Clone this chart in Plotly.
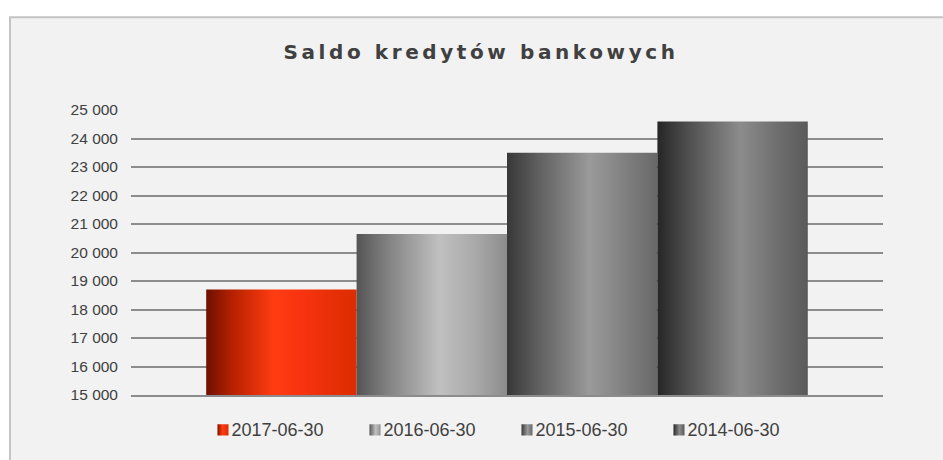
import plotly.graph_objects as go

# ---- data ----
dates = ["2017-06-30", "2016-06-30", "2015-06-30", "2014-06-30"]
values = [18700, 20650, 23500, 24600]
tick_vals = [15000, 16000, 17000, 18000, 19000, 20000, 21000, 22000, 23000, 24000, 25000]
tick_text = ["15 000", "16 000", "17 000", "18 000", "19 000", "20 000",
             "21 000", "22 000", "23 000", "24 000", "25 000"]
title_text = "Saldo kredytów bankowych"

# ---- styles ----
solid_colors = ["#e0320d", "#969696", "#777777", "#636363"]
gradients = [
    [("0", "#6e1000"), ("0.18", "#b82200"), ("0.45", "#ff3c12"), ("0.62", "#f83410"), ("1", "#dc2c00")],
    [("0", "#545454"), ("0.2", "#808080"), ("0.55", "#c0c0c0"), ("0.8", "#a8a8a8"), ("1", "#8c8c8c")],
    [("0", "#383838"), ("0.2", "#5e5e5e"), ("0.55", "#9a9a9a"), ("0.8", "#7e7e7e"), ("1", "#686868")],
    [("0", "#262626"), ("0.2", "#4e4e4e"), ("0.55", "#8c8c8c"), ("0.8", "#6e6e6e"), ("1", "#5a5a5a")],
]

W, H = 943, 460
ML, MR, MT, MB = 131, 60, 110, 58
PW, PH = W - ML - MR, H - MT - MB

fig = go.Figure()
for d, v, c in zip(dates, values, solid_colors):
    fig.add_trace(go.Bar(
        x=["Saldo"], y=[v], name=d,
        marker=dict(color=c, line=dict(width=0)),
        hoverinfo="name+y",
    ))

def px_to_paper_x(px):
    return (px - ML) / PW

def px_to_paper_y(py):
    return (H - MB - py) / PH

fig.update_layout(
    width=W, height=H, autosize=False,
    margin=dict(l=ML, r=MR, t=MT, b=MB, pad=0),
    paper_bgcolor="#ffffff",
    plot_bgcolor="rgba(0,0,0,0)",
    barmode="group", bargap=0.2, bargroupgap=0,
    font=dict(family="Liberation Sans, Arial, sans-serif", color="#404040"),
    title=dict(
        text=title_text,
        x=px_to_paper_x(481), xref="paper", xanchor="center",
        y=1 - 52 / H, yref="container", yanchor="middle",
        font=dict(family="DejaVu Sans, Verdana, sans-serif", size=20,
                  color="#404040", weight="bold"),
    ),
    xaxis=dict(showticklabels=False, showgrid=False, zeroline=False,
               showline=True, linecolor="#8c8c8c", linewidth=2, ticks=""),
    yaxis=dict(range=[15000, 25000], tickvals=tick_vals, ticktext=tick_text,
               showgrid=True, gridcolor="#8c8c8c", gridwidth=2,
               zeroline=False, showline=False, ticks="",
               ticklabelstandoff=12,
               tickfont=dict(size=15.5, color="#404040")),
    legend=dict(orientation="h", x=px_to_paper_x(495.5), xanchor="center",
                y=px_to_paper_y(437), yanchor="middle",
                font=dict(size=18, color="#404040"),
                entrywidth=107, entrywidthmode="pixels",
                bgcolor="rgba(0,0,0,0)", itemclick=False,
                traceorder="normal"),
    shapes=[dict(type="rect", xref="paper", yref="paper", layer="below",
                 x0=px_to_paper_x(10), x1=px_to_paper_x(960),
                 y0=px_to_paper_y(480), y1=px_to_paper_y(15),
                 fillcolor="#f2f2f2", line=dict(color="#c4c4c4", width=2))],
)

grad_js = "[" + ",".join(
    "[" + ",".join('["%s","%s"]' % s for s in g) + "]" for g in gradients
) + "]"

post = """
(function(){
document.body.style.margin = '0';
var grads = %s;
var gd = document.getElementsByClassName('plotly-graph-div')[0];
function apply(){
  var svg = gd.querySelector('.main-svg');
  if(!svg) return;
  var defs = svg.querySelector('defs');
  var ns = 'http://www.w3.org/2000/svg';
  grads.forEach(function(g, i){
    if(document.getElementById('cylgrad' + i)) return;
    var lg = document.createElementNS(ns, 'linearGradient');
    lg.setAttribute('id', 'cylgrad' + i);
    lg.setAttribute('x1', '0'); lg.setAttribute('y1', '0');
    lg.setAttribute('x2', '1'); lg.setAttribute('y2', '0');
    g.forEach(function(s){
      var st = document.createElementNS(ns, 'stop');
      st.setAttribute('offset', s[0]);
      st.setAttribute('stop-color', s[1]);
      lg.appendChild(st);
    });
    defs.appendChild(lg);
  });
  gd.querySelectorAll('.barlayer .trace').forEach(function(t, i){
    t.querySelectorAll('path').forEach(function(p){ p.style.fill = 'url(#cylgrad' + i + ')'; });
  });
  gd.querySelectorAll('.legend .traces').forEach(function(t, i){
    t.querySelectorAll('.legendpoints path').forEach(function(p){
      p.style.fill = 'url(#cylgrad' + i + ')';
      p.setAttribute('transform', 'translate(31.5,1) scale(0.92)');
    });
    var tx = t.querySelector('.legendtext');
    if(tx) tx.setAttribute('x', '40');
  });
  var tt = gd.querySelector('.gtitle');
  if(tt) tt.style.letterSpacing = '3.6px';
}
apply();
if(gd.on) gd.on('plotly_afterplot', apply);
})();
""" % grad_js

fig.write_html("out.html", post_script=post, config={"displayModeBar": False})
